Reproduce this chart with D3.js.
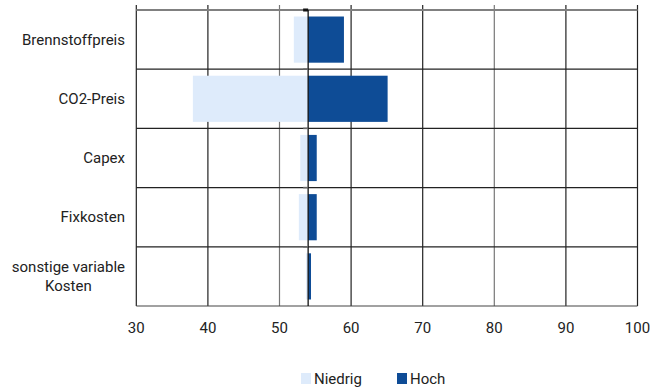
<!DOCTYPE html>
<html><head><meta charset="utf-8">
<script src="https://cdn.jsdelivr.net/npm/d3@7"></script>
<style>body{margin:0;background:#fff}svg{display:block}text{font-family:Roboto,"Open Sans",sans-serif;fill:#222}</style>
</head><body><svg id="c" width="651" height="391"></svg>
<script>
const categories = ["Brennstoffpreis","CO2-Preis","Capex","Fixkosten","sonstige variable Kosten"];
const niedrig = [52.0, 37.9, 52.9, 52.7, 53.7];
const hoch = [59.0, 65.1, 55.2, 55.2, 54.4];
const base = 54;
const xTicks = [30,40,50,60,70,80,90,100];
const seriesNames = ["Niedrig","Hoch"];
const colors = ["#deebfb","#0e4c96"];

const svg = d3.select("#c");
const m = {l:136.3, r:637.5, t:10, b:306};
const x = d3.scaleLinear().domain([30,100]).range([m.l, m.r]);
const y = d3.scaleBand().domain(categories).range([m.t, m.b]).paddingInner(0.22).paddingOuter(0.11);
const yb = d3.scaleBand().domain(categories).range([m.t, m.b]);
const fs = 15;

// vertical grid
svg.append("g").selectAll("line").data(xTicks).join("line")
  .attr("x1", d=>x(d)).attr("x2", d=>x(d)).attr("y1", m.t-5).attr("y2", m.b)
  .attr("stroke", d=> (d===50||d===80) ? "#777" : "#222").attr("stroke-width", 1.2);
// horizontal separators
svg.append("g").selectAll("line").data(categories.slice(1)).join("line")
  .attr("x1", m.l).attr("x2", m.r).attr("y1", d=>yb(d)).attr("y2", d=>yb(d))
  .attr("stroke", "#222").attr("stroke-width", 1.2);
svg.append("line").attr("x1", m.l).attr("x2", m.r).attr("y1", m.b).attr("y2", m.b).attr("stroke","#444").attr("stroke-width",1.2);
svg.append("line").attr("x1", m.l).attr("x2", m.r).attr("y1", m.t).attr("y2", m.t).attr("stroke","#808080").attr("stroke-width",2.2);

// bars
const g = svg.append("g");
g.selectAll("rect.n").data(categories).join("rect").attr("class","n")
  .attr("x", (d,i)=>x(Math.min(niedrig[i], base))).attr("width",(d,i)=>Math.abs(x(base)-x(niedrig[i])))
  .attr("y", d=>y(d)).attr("height", y.bandwidth()).attr("fill", colors[0]);
g.selectAll("rect.h").data(categories).join("rect").attr("class","h")
  .attr("x", (d,i)=>x(Math.min(hoch[i], base))).attr("width",(d,i)=>Math.abs(x(hoch[i])-x(base)))
  .attr("y", d=>y(d)).attr("height", y.bandwidth()).attr("fill", colors[1]);

// baseline axis
svg.append("line").attr("x1", x(base)).attr("x2", x(base)).attr("y1", m.t).attr("y2", m.b).attr("stroke","#111").attr("stroke-width",1.3);
svg.append("g").selectAll("line").data(categories.slice(1)).join("line")
  .attr("x1", x(base)-5).attr("x2", x(base)).attr("y1", d=>yb(d)).attr("y2", d=>yb(d)).attr("stroke","#666").attr("stroke-width",1.5);
svg.append("rect").attr("x", x(base)-5).attr("y", m.t-1.5).attr("width",5).attr("height",3).attr("fill","#111");

// x labels
svg.append("g").selectAll("text").data(xTicks).join("text")
  .attr("x", d=>x(d)).attr("y", 333).attr("text-anchor","middle").attr("font-size",fs).text(d=>d);

// category labels
const lab = svg.append("g");
categories.forEach(c=>{
  const cy = yb(c) + yb.bandwidth()/2;
  if (c === "sonstige variable Kosten") {
    const lines = ["sonstige variable","Kosten"];
    const t1 = lab.append("text").attr("x",125).attr("y",cy-4).attr("text-anchor","end").attr("font-size",fs).text(lines[0]);
    const w = t1.node().getComputedTextLength();
    lab.append("text").attr("x",125-w/2).attr("y",cy+15).attr("text-anchor","middle").attr("font-size",fs).text(lines[1]);
  } else {
    lab.append("text").attr("x",125).attr("y",cy+5).attr("text-anchor","end").attr("font-size",fs).text(c);
  }
});

// legend
const lg = svg.append("g");
const legX = [301, 397];
seriesNames.forEach((s,i)=>{
  lg.append("rect").attr("x",legX[i]).attr("y",373).attr("width",10).attr("height",11).attr("fill",colors[i]);
  lg.append("text").attr("x",legX[i]+13).attr("y",384).attr("font-size",fs).text(s);
});
</script></body></html>
